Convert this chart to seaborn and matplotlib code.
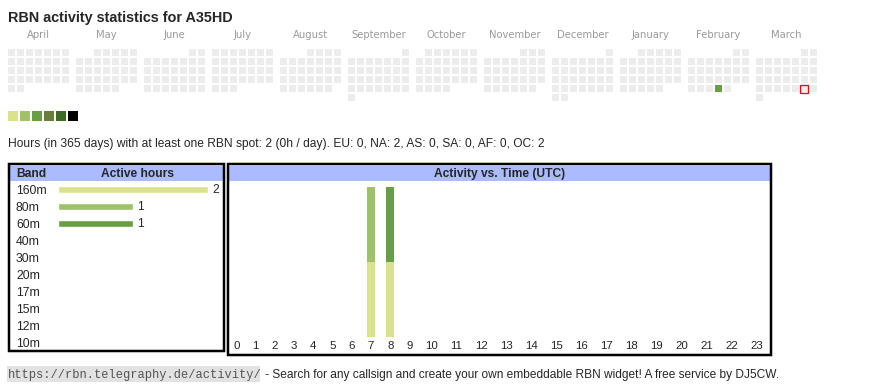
import numpy as np
import pandas as pd
import matplotlib
matplotlib.use('Agg')
import matplotlib.pyplot as plt
from matplotlib.colors import ListedColormap
from matplotlib.patches import Rectangle
import seaborn as sns

# Station and period
callsign = 'A35HD'
start_day = '2024-04-01'
end_day = '2025-03-31'
today = '2025-03-29'

# Calendar activity (days with spots and their colour level)
active_dates = ['2025-02-27']
active_levels = [3]
level_colors = ['#dbe28c', '#9dc26b', '#689f45', '#6a7d3b', '#3d6b27', '#000000']

# Active hours per band
bands = ['160m', '80m', '60m', '40m', '30m', '20m', '17m', '15m', '12m', '10m']
band_hours = [2, 1, 1, 0, 0, 0, 0, 0, 0, 0]
band_colors = ['#dbe28c', '#9dc26b', '#689f45', '#6a7d3b', '#3d6b27',
               '#2f5a8a', '#5b86c4', '#c48a3a', '#b0503c', '#7a3b8f']

# Activity vs. time (UTC hour, band, hours)
spot_hours = [7, 7, 8, 8]
spot_bands = ['160m', '80m', '160m', '60m']
spot_counts = [1, 1, 1, 1]
hour_labels = [str(h) for h in range(24)]

# Summary line
total_hours = 2
continents = ['EU', 'NA', 'AS', 'SA', 'AF', 'OC']
continent_hours = [0, 2, 0, 0, 0, 2]

W, H = 870, 390
sns.set_style('white')
plt.rcParams['font.family'] = ['Liberation Sans', 'DejaVu Sans']

fig = plt.figure(figsize=(W / 100, H / 100), dpi=100)


def px_axes(x, y, w, h):
    # axes from a pixel box measured from the top-left corner
    return fig.add_axes([x / W, 1 - (y + h) / H, w / W, h / H])


def pt(px):
    return px * 0.72


# ---- calendar ----
days = pd.DataFrame({'date': pd.date_range(start_day, end_day)})
level_map = dict(zip(pd.to_datetime(active_dates), active_levels))
days['level'] = days['date'].map(level_map).fillna(0)
days['month'] = days['date'].dt.to_period('M')
cmap = ListedColormap(['#ececec'] + level_colors)
today_ts = pd.Timestamp(today)
month_names = []

for i, (month, grp) in enumerate(days.groupby('month')):
    offset = grp['date'].iloc[0].weekday()
    grid = np.full((6, 7), np.nan)
    rows = ((grp['date'].dt.day + offset - 1) // 7).to_numpy()
    cols = grp['date'].dt.weekday.to_numpy()
    grid[rows, cols] = grp['level'].to_numpy()
    ax = px_axes(7 + 68 * i, 48, 63, 54)
    sns.heatmap(grid, ax=ax, cmap=cmap, vmin=-0.5, vmax=len(level_colors) + 0.5,
                cbar=False, linewidths=pt(1.7), linecolor='white',
                xticklabels=False, yticklabels=False)
    ax.axis('off')
    if (grp['date'] == today_ts).any():
        r = (today_ts.day + offset - 1) // 7
        c = today_ts.weekday()
        ax.add_patch(Rectangle((c + 0.5 / 9, r + 0.5 / 9), 8 / 9, 8 / 9, fill=False,
                               edgecolor='#ff0000', lw=pt(1.3), clip_on=False))
    month_names.append((7 + 68 * i + 31.5, month.strftime('%B')))

# level legend
ax = px_axes(7, 110, 72, 12)
sns.heatmap(np.arange(1, len(level_colors) + 1)[None, :], ax=ax, cmap=cmap,
            vmin=-0.5, vmax=len(level_colors) + 0.5, cbar=False,
            linewidths=pt(2), linecolor='white', xticklabels=False, yticklabels=False)
ax.axis('off')

# ---- band table ----
ax = px_axes(58, 181.2, 150, 170)
ax.set_facecolor('none')
sns.barplot(x=band_hours, y=bands, hue=bands, palette=band_colors, legend=False,
            orient='h', width=7 / 17, saturation=1, errorbar=None, ax=ax)
for cont, val in zip(ax.containers, band_hours):
    ax.bar_label(cont, labels=[str(val) if val else ''], padding=3, fontsize=pt(12))
ax.set_xlim(0, max(band_hours))
ax.set_xticks([])
ax.set_xlabel('')
ax.tick_params(axis='y', length=0, pad=pt(42), labelsize=pt(12.3))
for lbl in ax.get_yticklabels():
    lbl.set_horizontalalignment('left')
sns.despine(ax=ax, left=True, bottom=True)

# ---- activity vs time ----
col_w = np.array([13.4 + 5.8 * len(l) for l in hour_labels])
edges = np.concatenate([[0], np.cumsum(col_w)])
centers = edges[:-1] + col_w / 2
spots = pd.DataFrame({'hour': spot_hours, 'band': spot_bands, 'count': spot_counts})
used = [b for b in bands if b in set(spot_bands)]
stack = (spots.pivot_table(index='hour', columns='band', values='count', aggfunc='sum')
         .reindex(index=range(24), columns=used).fillna(0).cumsum(axis=1))
stack = stack.reset_index().melt(id_vars='hour', var_name='band', value_name='top')
stack['center'] = centers[stack['hour']]

ax = px_axes(227, 187, edges[-1], 150)
ax.set_facecolor('none')
sns.barplot(data=stack, x='center', y='top', hue='band', hue_order=used[::-1],
            native_scale=True, dodge=False, width=7.7 / col_w.min(), saturation=1,
            errorbar=None, linewidth=0, palette=dict(zip(bands, band_colors)),
            legend=False, ax=ax)
ax.set_xlim(0, edges[-1])
ax.set_ylim(0, stack['top'].max())
ax.set_xticks(centers, hour_labels)
ax.set_yticks([])
ax.set_xlabel('')
ax.set_ylabel('')
ax.tick_params(axis='x', length=0, pad=3, labelsize=pt(11.5))
sns.despine(ax=ax, left=True, bottom=True)

# ---- page texts and frames ----
ov = fig.add_axes([0, 0, 1, 1], zorder=10)
ov.set_xlim(0, W)
ov.set_ylim(H, 0)
ov.axis('off')

ov.text(8, 22, f'RBN activity statistics for {callsign}', fontsize=pt(14.4),
        fontweight='bold', va='baseline')
for x, name in month_names:
    ov.text(x, 38, name, fontsize=pt(10), color='#9a9a9a', ha='center',
            va='baseline', family='DejaVu Sans')

summary = (f'Hours (in 365 days) with at least one RBN spot: {total_hours} '
           f'({total_hours / 365:.0f}h / day). '
           + ', '.join(f'{c}: {v}' for c, v in zip(continents, continent_hours)))
ov.text(8, 146.5, summary, fontsize=pt(12), va='baseline')

header_blue = '#aabbff'
ov.add_patch(Rectangle((10.5, 165.5), 213.3, 15.5, color=header_blue, lw=0))
ov.add_patch(Rectangle((229.5, 165.5), 541.3, 15.5, color=header_blue, lw=0))
ov.add_patch(Rectangle((9.25, 164.25), 214.5, 186.5, fill=False, ec='black', lw=pt(2.5)))
ov.add_patch(Rectangle((228.25, 164.25), 542.5, 190.5, fill=False, ec='black', lw=pt(2.5)))
ov.text(16, 177, 'Band', fontsize=pt(12), fontweight='bold', va='baseline')
ov.text(138, 177, 'Active hours', fontsize=pt(12), fontweight='bold', va='baseline', ha='center')
ov.text(499.5, 177, 'Activity vs. Time (UTC)', fontsize=pt(12), fontweight='bold',
        va='baseline', ha='center')

ov.add_patch(Rectangle((7, 366), 253, 16, color='#e2e2e2', lw=0))
ov.text(8, 378, 'https://rbn.telegraphy.de/activity/', fontsize=pt(12),
        family='Liberation Mono', color='#555555', va='baseline')
ov.text(262, 378, ' - Search for any callsign and create your own embeddable RBN widget! '
        'A free service by DJ5CW.', fontsize=pt(11.95), va='baseline')

fig.savefig('out.png', dpi=100)
